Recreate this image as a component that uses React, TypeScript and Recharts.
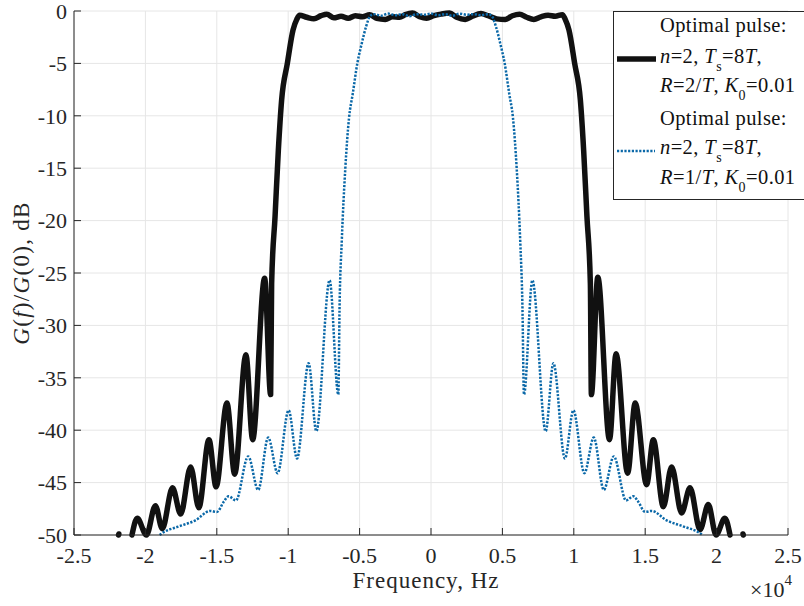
import { CartesianGrid, Line, LineChart, XAxis, YAxis } from "recharts";

const xTicks = [-25000, -20000, -15000, -10000, -5000, 0, 5000, 10000, 15000, 20000, 25000];
const yTicks = [-50, -45, -40, -35, -30, -25, -20, -15, -10, -5, 0];

// optimal pulse, R = 2/T  (null = gap, the curve dips below -50 dB)
const wideFreq = [
    -21880, -21860, -21500,
    -20940, -20570, -19930, -19300, -18820, -18100, -17530, -16830, -16260, -15550, -15050,
    -14290, -13750, -12960, -12490, -11650, -11230, -11160, -10920, -10690, -10460, -10060,
    -9660, -9400, -9200, -8700, -8200, -7700, -7300, -6800, -6300, -5800, -5300, -4800, -4300,
    -3800, -3200, -2700, -2200, -1800, -1300, -800, -300, 200, 700, 1300, 1800, 2400, 2900,
    3500, 4000, 4600, 5200, 5700, 6200, 6700, 7200, 7700, 8200, 8700, 9200, 9400, 9660,
    10060, 10460, 10690, 10920, 11160, 11230, 11680, 12500, 12960, 13770, 14300, 15100, 15570,
    16270, 16850, 17550, 18140, 18840, 19420, 19960, 20580, 20940,
    21500, 21850, 21870,
]
const wideGain = [
    -50, -49.9, null,
    -50, -48.4, -50, -47.2, -49.4, -45.5, -48.0, -43.5, -47.4, -40.9, -45.4,
    -37.4, -44.2, -32.8, -40.9, -25.5, -36.6, -26, -19.6, -13.3, -8.5, -5,
    -1.8, -0.8, -0.4, -0.6, -0.75, -0.45, -0.3, -0.65, -0.5, -0.7, -0.45, -0.55, -0.35,
    -0.7, -0.8, -0.55, -0.6, -0.35, -0.2, -0.55, -0.7, -0.45, -0.3, -0.2, -0.6, -0.8, -0.5,
    -0.25, -0.45, -0.75, -0.8, -0.45, -0.3, -0.6, -0.8, -0.55, -0.4, -0.5, -0.35, -0.8, -1.8,
    -5, -8.5, -13.3, -19.6, -26, -36.6, -25.4, -40.9, -32.7, -44.1, -37.4, -45.2, -40.9,
    -47.3, -43.5, -47.9, -45.5, -49.5, -47.1, -50, -48.4, -50,
    null, -49.9, -50,
]

// optimal pulse, R = 1/T
const narrowFreq = [
    -19000, -18800, -17700, -16500, -15450, -15000, -14500, -14170, -13660, -12800, -12100,
    -11400, -10740, -9970, -9380, -8570, -8030, -7100, -6490, -6400, -6250, -6000, -5740,
    -5480, -5160, -4850, -4550, -4270, -4000, -3500, -3000, -2500, -2000, -1500, -1000, -500,
    0, 500, 1000, 1500, 2000, 2500, 3000, 3500, 4000, 4270, 4550, 4850, 5160, 5480, 5740,
    6000, 6250, 6400, 6510, 7100, 8030, 8570, 9380, 9970, 10740, 11400, 12100, 12800, 13660,
    14170, 14500, 15000, 15450, 16500, 17700, 18800, 19000,
]
const narrowGain = [
    -50, -49.8, -49.2, -48.6, -47.7, -47.8, -46.8, -46.3, -46.7, -42.5, -45.7,
    -40.7, -44.1, -38.1, -42.7, -33.6, -40.1, -25.7, -36.6, -28, -22, -15, -10.2,
    -7.9, -5, -3.1, -1.5, -0.5, -0.3, -0.45, -0.25, -0.4, -0.3, -0.5, -0.3, -0.35,
    -0.25, -0.4, -0.3, -0.45, -0.25, -0.35, -0.3, -0.4, -0.3, -0.5, -1.5, -3.1, -5, -7.9, -10.2,
    -15, -22, -28, -36.6, -25.7, -40.1, -33.6, -42.7, -38.1, -44.1, -40.7, -45.7, -42.5, -46.7,
    -46.3, -46.8, -47.8, -47.7, -48.6, -49.2, -49.8, -50,
]

const wideData = wideFreq.map((f, i) => ({ f, g: wideGain[i] }))
const narrowData = narrowFreq.map((f, i) => ({ f, g: narrowGain[i] }))

const serif = "Liberation Serif, Times New Roman, serif"
const ink = "#262626"
const blue = "#0a68a8"
const tickStyle = { fontFamily: serif, fontSize: 22, fill: ink }

export default function App() {
    return (
        <div style={{ position: "relative", width: 804, height: 606, overflow: "hidden", background: "#fff" }}>
            <style>{"body{margin:0}"}</style>
            <LineChart width={804} height={606} margin={{ top: 11, right: 16, bottom: 41, left: 14 }}>
                <CartesianGrid xAxisId="b" yAxisId="l" stroke="#e6e6e6" />
                <XAxis
                    xAxisId="b"
                    dataKey="f"
                    type="number"
                    domain={[-25000, 25000]}
                    ticks={xTicks}
                    interval={0}
                    height={30}
                    tickSize={-7}
                    tickMargin={19}
                    stroke={ink}
                    tick={tickStyle}
                    tickFormatter={(v: number) => String(v / 10000)}
                />
                <XAxis
                    xAxisId="t"
                    orientation="top"
                    dataKey="f"
                    type="number"
                    domain={[-25000, 25000]}
                    ticks={xTicks}
                    interval={0}
                    height={0}
                    tickSize={-7}
                    stroke={ink}
                    tick={false}
                />
                <YAxis
                    yAxisId="l"
                    type="number"
                    domain={[-50, 0]}
                    ticks={yTicks}
                    interval={0}
                    width={60}
                    tickSize={-7}
                    tickMargin={14}
                    stroke={ink}
                    tick={tickStyle}
                />
                <YAxis
                    yAxisId="r"
                    orientation="right"
                    type="number"
                    domain={[-50, 0]}
                    ticks={yTicks}
                    interval={0}
                    width={0}
                    tickSize={-7}
                    stroke={ink}
                    tick={false}
                />
                <Line
                    xAxisId="b"
                    yAxisId="l"
                    data={wideData}
                    dataKey="g"
                    type="monotone"
                    stroke="#111111"
                    strokeWidth={5.5}
                    strokeLinecap="round"
                    strokeLinejoin="round"
                    dot={false}
                    activeDot={false}
                    isAnimationActive={false}
                />
                <Line
                    xAxisId="b"
                    yAxisId="l"
                    data={narrowData}
                    dataKey="g"
                    type="monotone"
                    stroke={blue}
                    strokeWidth={2.5}
                    strokeDasharray="2.2 1.5"
                    dot={false}
                    activeDot={false}
                    isAnimationActive={false}
                />
            </LineChart>

            <svg width={804} height={606} style={{ position: "absolute", left: 0, top: 0, pointerEvents: "none" }}>
                <g fontFamily={serif} fill={ink}>
                    <text x={426} y={588} fontSize={23} letterSpacing={1} textAnchor="middle">Frequency, Hz</text>
                    <text transform="translate(29,273) rotate(-90)" fontSize={23} letterSpacing={1.3} textAnchor="middle">
                        <tspan fontStyle="italic">G</tspan>(<tspan fontStyle="italic">f</tspan>)/<tspan fontStyle="italic">G</tspan>(0), dB
                    </text>
                    <text x={750} y={597} fontSize={22}>
                        ×10<tspan fontSize={15} dy={-12}>4</tspan>
                    </text>
                </g>

                <rect x={613.5} y={11.5} width={200} height={188} fill="#fff" stroke={ink} />
                <line x1={617} y1={59} x2={656} y2={59} stroke="#111111" strokeWidth={5.5} />
                <line x1={617} y1={151} x2={655} y2={151} stroke={blue} strokeWidth={2.5} strokeDasharray="2.2 1.5" />
                <g fontFamily={serif} fontSize={20.5} fill="#111" letterSpacing={0.4}>
                    <text x={660} y={32}>Optimal pulse:</text>
                    <text x={660} y={63}>
                        <tspan fontStyle="italic">n</tspan>=2, <tspan fontStyle="italic">T</tspan>
                        <tspan fontSize={14} dy={8}>s</tspan>
                        <tspan dy={-8}>=8</tspan><tspan fontStyle="italic">T</tspan>,
                    </text>
                    <text x={660} y={92}>
                        <tspan fontStyle="italic">R</tspan>=2/<tspan fontStyle="italic">T</tspan>, <tspan fontStyle="italic">K</tspan>
                        <tspan fontSize={14} dy={8}>0</tspan>
                        <tspan dy={-8}>=0.01</tspan>
                    </text>
                    <text x={660} y={125}>Optimal pulse:</text>
                    <text x={660} y={154}>
                        <tspan fontStyle="italic">n</tspan>=2, <tspan fontStyle="italic">T</tspan>
                        <tspan fontSize={14} dy={8}>s</tspan>
                        <tspan dy={-8}>=8</tspan><tspan fontStyle="italic">T</tspan>,
                    </text>
                    <text x={660} y={184}>
                        <tspan fontStyle="italic">R</tspan>=1/<tspan fontStyle="italic">T</tspan>, <tspan fontStyle="italic">K</tspan>
                        <tspan fontSize={14} dy={8}>0</tspan>
                        <tspan dy={-8}>=0.01</tspan>
                    </text>
                </g>
            </svg>
        </div>
    )
}
